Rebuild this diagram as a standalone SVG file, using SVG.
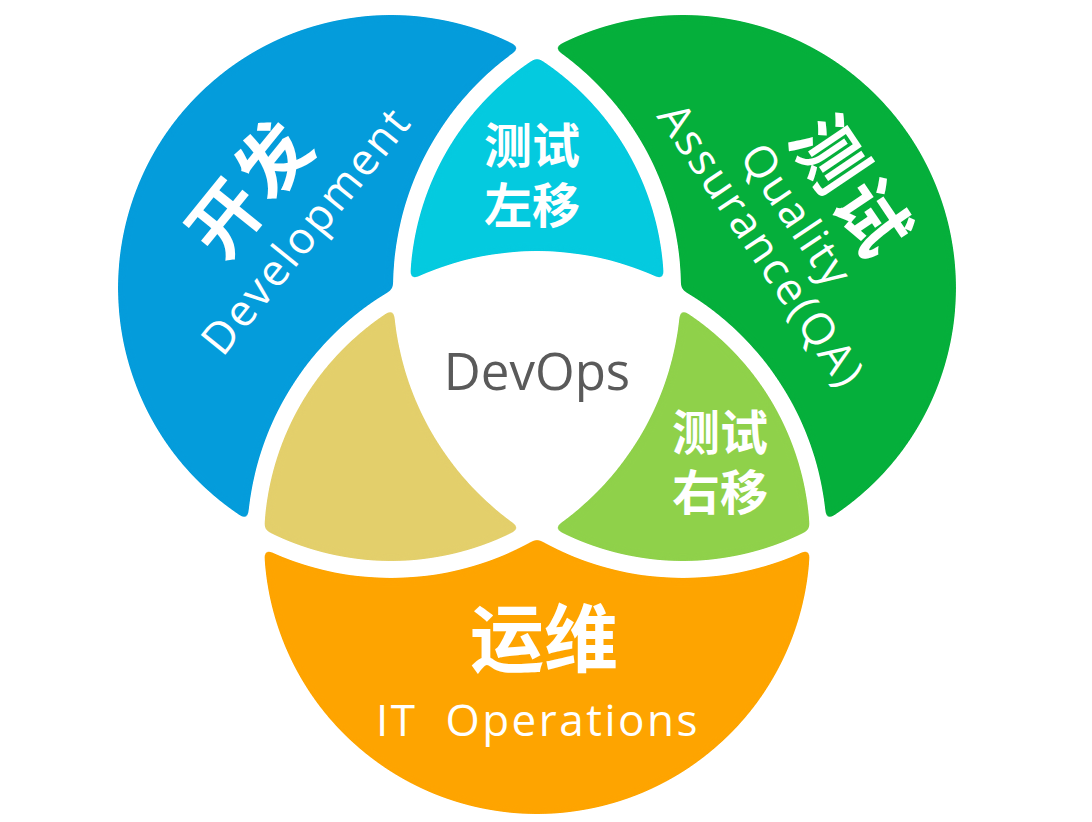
<svg xmlns="http://www.w3.org/2000/svg" width="1092" height="822" viewBox="0 0 1092 822">
<style>
.cjk{font-family:"Noto Sans CJK SC","Noto Sans",sans-serif;font-weight:700;fill:#fff;text-anchor:middle}
.en{font-family:"Open Sans","Liberation Sans",sans-serif;font-weight:400;fill:#fff;text-anchor:middle;font-size:44px;letter-spacing:2.5px}
.big{font-size:72px}
.small{font-size:48px}
</style>
<defs>
<filter id="rnd" filterUnits="userSpaceOnUse" x="0" y="0" width="1092" height="822" color-interpolation-filters="sRGB">
<feGaussianBlur in="SourceGraphic" stdDeviation="3.5" result="b"/>
<feComponentTransfer in="b"><feFuncA type="linear" slope="10" intercept="-4.5"/></feComponentTransfer>
</filter>
<mask id="mBlue" maskUnits="userSpaceOnUse" x="0" y="0" width="1092" height="822">
<rect width="1092" height="822" fill="#fff"/>
<circle cx="683" cy="288" r="290" fill="#000"/>
<circle cx="537" cy="541" r="290" fill="#000"/>
</mask>
<mask id="mGreen" maskUnits="userSpaceOnUse" x="0" y="0" width="1092" height="822">
<rect width="1092" height="822" fill="#fff"/>
<circle cx="391" cy="288" r="290" fill="#000"/>
<circle cx="537" cy="541" r="290" fill="#000"/>
</mask>
<mask id="mOrange" maskUnits="userSpaceOnUse" x="0" y="0" width="1092" height="822">
<rect width="1092" height="822" fill="#fff"/>
<circle cx="391" cy="288" r="290" fill="#000"/>
<circle cx="683" cy="288" r="290" fill="#000"/>
</mask>
<mask id="mCyan" maskUnits="userSpaceOnUse" x="0" y="0" width="1092" height="822">
<circle cx="683" cy="288" r="273" fill="#fff"/>
<circle cx="537" cy="541" r="290" fill="#000"/>
</mask>
<mask id="mYellow" maskUnits="userSpaceOnUse" x="0" y="0" width="1092" height="822">
<circle cx="537" cy="541" r="273" fill="#fff"/>
<circle cx="683" cy="288" r="290" fill="#000"/>
</mask>
<mask id="mLime" maskUnits="userSpaceOnUse" x="0" y="0" width="1092" height="822">
<circle cx="537" cy="541" r="273" fill="#fff"/>
<circle cx="391" cy="288" r="290" fill="#000"/>
</mask>
</defs>
<rect width="1092" height="822" fill="#fff"/>

<g id="dev">
<g filter="url(#rnd)"><g mask="url(#mBlue)"><circle cx="391" cy="288" r="273" fill="#049CDB"/></g></g>
<text class="cjk big" letter-spacing="4" transform="translate(271,204) rotate(-51)">开发</text>
<text class="en" transform="translate(318,240) rotate(-51)">Development</text>
</g>

<g id="qa">
<g filter="url(#rnd)"><g mask="url(#mGreen)"><circle cx="683" cy="288" r="273" fill="#05AF3B"/></g></g>
<text class="cjk big" letter-spacing="4" transform="translate(830,202) rotate(56)">测试</text>
<text class="en" transform="translate(784,224) rotate(56)">Quality</text>
<text class="en" transform="translate(749,254) rotate(56)">Assurance(QA)</text>
</g>

<g id="ops">
<g filter="url(#rnd)"><g mask="url(#mOrange)"><circle cx="537" cy="541" r="273" fill="#FEA400"/></g></g>
<text class="cjk" font-size="74" x="544" y="666">运维</text>
<text class="en" x="538" y="736">IT&#160; Operations</text>
</g>

<g id="shift-left">
<g filter="url(#rnd)"><g mask="url(#mCyan)"><circle cx="391" cy="288" r="273" fill="#04CADF"/></g></g>
<text class="cjk small"><tspan x="532" y="163">测试</tspan><tspan x="532" y="223">左移</tspan></text>
</g>

<g id="dev-ops-overlap">
<g filter="url(#rnd)"><g mask="url(#mYellow)"><circle cx="391" cy="288" r="273" fill="#E3CF6B"/></g></g>
</g>

<g id="shift-right">
<g filter="url(#rnd)"><g mask="url(#mLime)"><circle cx="683" cy="288" r="273" fill="#8FD14A"/></g></g>
<text class="cjk small"><tspan x="720" y="450">测试</tspan><tspan x="720" y="510">右移</tspan></text>
</g>

<g id="devops">
<text x="537" y="390" font-family="Open Sans, Liberation Sans, sans-serif" font-size="51" fill="#5A5A5A" text-anchor="middle">DevOps</text>
</g>
</svg>
